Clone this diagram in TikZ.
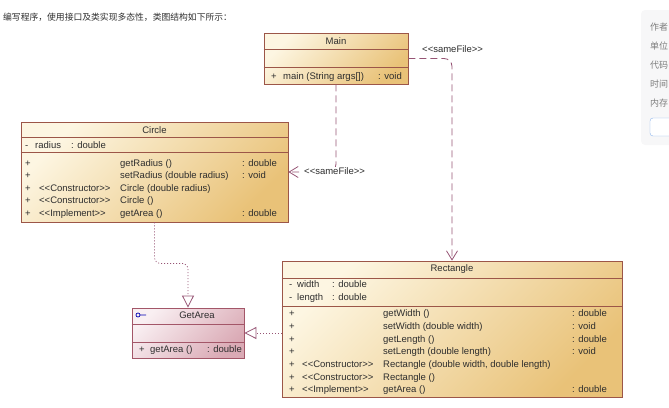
\documentclass[tikz,border=0pt]{standalone}
\usepackage{fontspec}
\setmainfont{Liberation Sans}
\newfontfamily\cjk{Noto Sans CJK SC}
\usepackage{tikz}
\usetikzlibrary{arrows.meta,positioning,calc}

\definecolor{ClassLight}{RGB}{253,246,226}
\definecolor{ClassDark}{RGB}{233,194,120}
\definecolor{ClassLine}{RGB}{156,86,72}
\definecolor{IfaceLight}{RGB}{249,239,242}
\definecolor{IfaceDark}{RGB}{218,170,181}
\definecolor{IfaceLine}{RGB}{163,86,104}
\definecolor{LinkColor}{RGB}{150,84,116}
\definecolor{PanelGray}{RGB}{247,247,248}
\definecolor{PanelText}{RGB}{125,125,125}
\definecolor{PanelBlue}{RGB}{140,180,236}
\definecolor{TextGray}{RGB}{45,45,45}

\newcommand{\stereo}[1]{<{}<#1>{}>}

\begin{document}
\begin{tikzpicture}[x=1pt,y=-1pt]
			\tikzstyle{Class}	= [rectangle, draw=ClassLine, line width=0.8pt, top color=ClassLight, bottom color=ClassDark, shading angle=45, inner sep=0pt]
			\tikzstyle{Iface}	= [rectangle, draw=IfaceLine, line width=0.8pt, top color=IfaceLight, bottom color=IfaceDark, shading angle=45, inner sep=0pt]
			\tikzstyle{Sep}		= [draw=ClassLine, line width=0.8pt]
			\tikzstyle{ISep}	= [draw=IfaceLine, line width=0.8pt]
			\tikzstyle{Txt}		= [anchor=west, inner sep=0pt, text height=6.8pt, text depth=0pt, text=TextGray, font=\fontsize{9.5}{11}\selectfont]
			\tikzstyle{Title}	= [Txt, anchor=center]
			\tikzstyle{Usage}	= [draw=LinkColor, line width=0.8pt, dash pattern=on 7pt off 4pt, rounded corners=8pt, -{Straight Barb[length=9pt, width=11pt]}]
			\tikzstyle{Realize}	= [draw=LinkColor, line width=0.8pt, dash pattern=on 1pt off 2pt, rounded corners=6pt, -{Triangle[open, length=12pt, width=12pt]}]
			\tikzstyle{Panel}	= [anchor=west, inner sep=0pt, text=PanelText, font=\cjk\fontsize{9}{11}\selectfont]

			\useasboundingbox (0,0) rectangle (669,407);

			% page around the diagram
			\node (head) at (3,17) [anchor=west, inner sep=0pt, text=TextGray, font=\cjk\fontsize{8.8}{11}\selectfont] {编写程序，使用接口及类实现多态性，类图结构如下所示：};
			\fill [PanelGray, rounded corners=4pt] (641,10) rectangle (690,145);
			\node (p1) at (650,27) [Panel] {作者};
			\node (p2) at (650,46) [Panel] {单位};
			\node (p3) at (650,65) [Panel] {代码};
			\node (p4) at (650,84) [Panel] {时间};
			\node (p5) at (650,103) [Panel] {内存};
			\draw [PanelBlue, fill=white, rounded corners=3pt] (650,118) rectangle (700,136);

			% class boxes
			\node (main) at (336,58.5) [Class, minimum width=144pt, minimum height=51pt] {};
			\node (circle) at (154.5,172) [Class, minimum width=267pt, minimum height=100pt] {};
			\node (getarea) at (188,333) [Iface, minimum width=112pt, minimum height=50pt] {};
			\node (rect) at (452,329) [Class, minimum width=340pt, minimum height=136pt] {};

			\draw [Sep] (main.west |- 0,49) -- (main.east |- 0,49);
			\draw [Sep] (main.west |- 0,67) -- (main.east |- 0,67);
			\draw [Sep] (circle.west |- 0,137) -- (circle.east |- 0,137);
			\draw [Sep] (circle.west |- 0,152) -- (circle.east |- 0,152);
			\draw [ISep] (getarea.west |- 0,324) -- (getarea.east |- 0,324);
			\draw [ISep] (getarea.west |- 0,342) -- (getarea.east |- 0,342);
			\draw [Sep] (rect.west |- 0,278) -- (rect.east |- 0,278);
			\draw [Sep] (rect.west |- 0,306) -- (rect.east |- 0,306);

			% Main
			\node (mainT) at (336,41) [Title] {Main};
			\node (mainP) at (271,76) [Txt] {+};
			\node (mainM) at (283,76) [Txt] {main (String args[])};
			\node (mainR) at (378,76) [Txt] {: void};

			% Circle
			\node (circleT) at (154.5,130) [Title] {Circle};
			\node (cA0) at (25,145) [Txt] {-};
			\node (cA1) at (35,145) [Txt] {radius};
			\node (cA2) at (71,145) [Txt] {: double};
			\foreach \y [count=\i] in {163,175.5,188,200.5,213}
				\node (cP\i) at (25,\y) [Txt] {+};
			\node (cS3) at (39,188) [Txt] {\stereo{Constructor}};
			\node (cS4) at (39,200.5) [Txt] {\stereo{Constructor}};
			\node (cS5) at (39,213) [Txt] {\stereo{Implement}};
			\node (cM1) at (120,163) [Txt] {getRadius ()};
			\node (cM2) at (120,175.5) [Txt] {setRadius (double radius)};
			\node (cM3) at (120,188) [Txt] {Circle (double radius)};
			\node (cM4) at (120,200.5) [Txt] {Circle ()};
			\node (cM5) at (120,213) [Txt] {getArea ()};
			\node (cR1) at (242,163) [Txt] {: double};
			\node (cR2) at (242,175.5) [Txt] {: void};
			\node (cR5) at (242,213) [Txt] {: double};

			% GetArea
			\draw [blue!70!black, line width=0.7pt] (138,315) circle (2pt) (140,315) -- (146,315);
			\node (gT) at (197,315) [Title] {GetArea};
			\node (gP) at (139,349) [Txt] {+};
			\node (gM) at (150,349) [Txt] {getArea ()};
			\node (gR) at (207,349) [Txt] {: double};

			% Rectangle
			\node (rT) at (452,268) [Title] {Rectangle};
			\node (rA0) at (289,284) [Txt] {-};
			\node (rA1) at (297,284) [Txt] {width};
			\node (rA2) at (332,284) [Txt] {: double};
			\node (rB0) at (289,297) [Txt] {-};
			\node (rB1) at (297,297) [Txt] {length};
			\node (rB2) at (332,297) [Txt] {: double};
			\foreach \y [count=\i] in {313,326,339,351.5,364,377,389.5}
				\node (rP\i) at (289,\y) [Txt] {+};
			\node (rS5) at (302,364) [Txt] {\stereo{Constructor}};
			\node (rS6) at (302,377) [Txt] {\stereo{Constructor}};
			\node (rS7) at (302,389.5) [Txt] {\stereo{Implement}};
			\node (rM1) at (383,313) [Txt] {getWidth ()};
			\node (rM2) at (383,326) [Txt] {setWidth (double width)};
			\node (rM3) at (383,339) [Txt] {getLength ()};
			\node (rM4) at (383,351.5) [Txt] {setLength (double length)};
			\node (rM5) at (383,364) [Txt] {Rectangle (double width, double length)};
			\node (rM6) at (383,377) [Txt] {Rectangle ()};
			\node (rM7) at (383,389.5) [Txt] {getArea ()};
			\node (rR1) at (572,313) [Txt] {: double};
			\node (rR2) at (572,326) [Txt] {: void};
			\node (rR3) at (572,339) [Txt] {: double};
			\node (rR4) at (572,351.5) [Txt] {: void};
			\node (rR7) at (572,389.5) [Txt] {: double};

			% connectors
			\draw [Usage] (main.south) |- (circle.east);
			\node (lab1) at (303,171) [Txt, fill=white, inner sep=1pt] {\stereo{sameFile}};
			\draw [Usage] (main.east) -| (rect.north);
			\node (lab2) at (422,49) [Txt] {\stereo{sameFile}};
			\draw [Realize] (circle.south) -- ++(0,41) -| (getarea.north);
			\draw [Realize] (rect.west |- getarea.east) -- (getarea.east);
		\end{tikzpicture}
\end{document}
